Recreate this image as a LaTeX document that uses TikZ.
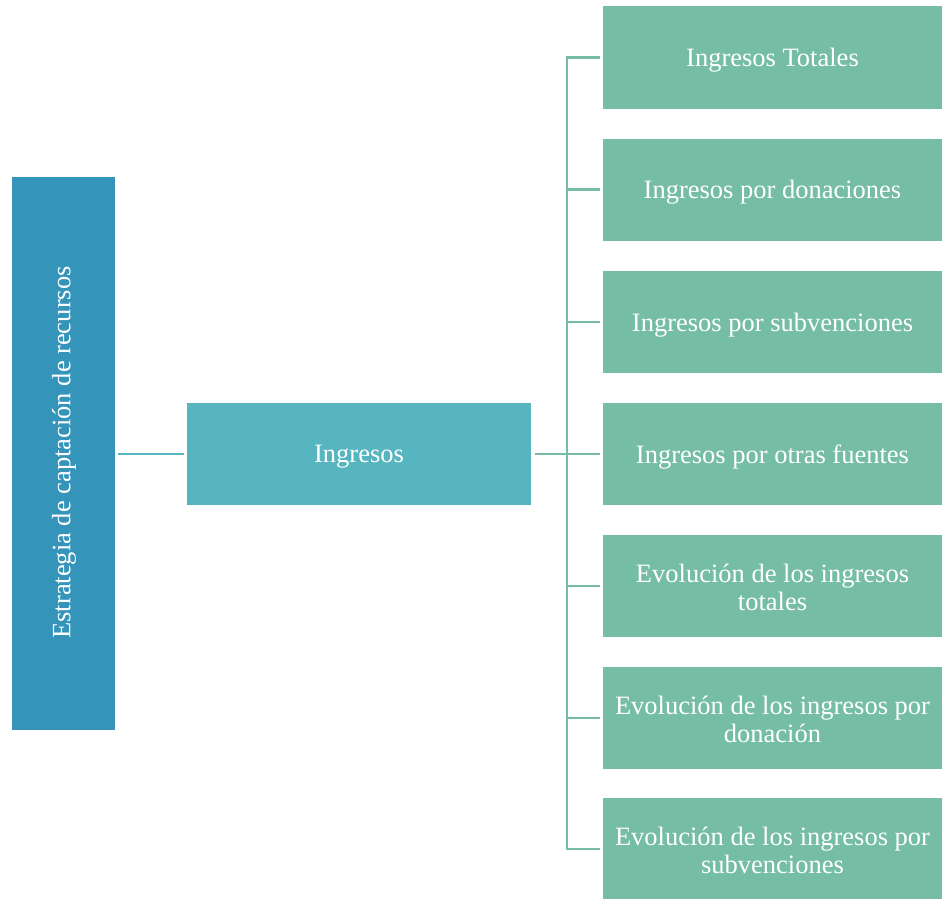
\documentclass[tikz,border=0pt]{standalone}
\usepackage{fontspec}
\setmainfont{Liberation Serif}
\definecolor{cdark}{HTML}{3494BA}
\definecolor{cmid}{HTML}{57B5C0}
\definecolor{cgreen}{HTML}{76BDA6}
\begin{document}
\begin{tikzpicture}[x=1pt,y=-1pt,
  box/.style={draw=none,inner sep=0pt},
  txt/.style={text=white,inner sep=0pt,align=center,font=\fontsize{26.5}{27.5}\selectfont},
  gbox/.style={box,fill=cgreen,minimum width=339pt,minimum height=102pt},
  lnk/.style={line width=2.2pt,draw=cgreen}]
\useasboundingbox (0,0) rectangle (942,899);
\node[box,fill=cdark,minimum width=103pt,minimum height=553pt] (root) at (63.5,453.5) {};
\node[txt,rotate=90] (roott) at (64,452.5) {Estrategia de captación de recursos};
\node[box,fill=cmid,minimum width=344pt,minimum height=102pt] (mid) at (359,454) {};
\node[txt] (midt) at (359,457) {Ingresos};
\node[gbox] (r1) at (772.5,57.5) {};
\node[gbox] (r2) at (772.5,189.5) {};
\node[gbox] (r3) at (772.5,322) {};
\node[gbox] (r4) at (772.5,454) {};
\node[gbox] (r5) at (772.5,586) {};
\node[gbox] (r6) at (772.5,718) {};
\node[gbox] (r7) at (772.5,849) {};
\node[txt] (t1) at ([yshift=-3pt]r1.center) {Ingresos Totales};
\node[txt] (t2) at ([yshift=-3pt]r2.center) {Ingresos por donaciones};
\node[txt] (t3) at ([yshift=-3pt]r3.center) {Ingresos por subvenciones};
\node[txt] (t4) at ([yshift=-3pt]r4.center) {Ingresos por otras fuentes};
\node[txt] (t5) at ([yshift=-1.5pt]r5.center) {Evolución de los ingresos\\totales};
\node[txt] (t6) at ([yshift=-1.5pt]r6.center) {Evolución de los ingresos por\\donación};
\node[txt] (t7) at ([yshift=-1.5pt]r7.center) {Evolución de los ingresos por\\subvenciones};
\draw[line width=2.2pt,draw=cmid] ([xshift=3pt]root.east |- mid.west) -- ([xshift=-3pt]mid.west);
\coordinate (bus) at (567,454);
\draw[lnk] ([xshift=4pt]mid.east) -- (bus);
\draw[lnk] (bus |- r1.west) -- (bus |- r7.west);
\foreach \i in {1,...,7} {
  \draw[lnk] ([xshift=-1.1pt]bus |- r\i.west) -- ([xshift=-3pt]r\i.west);
}
\end{tikzpicture}
\end{document}
